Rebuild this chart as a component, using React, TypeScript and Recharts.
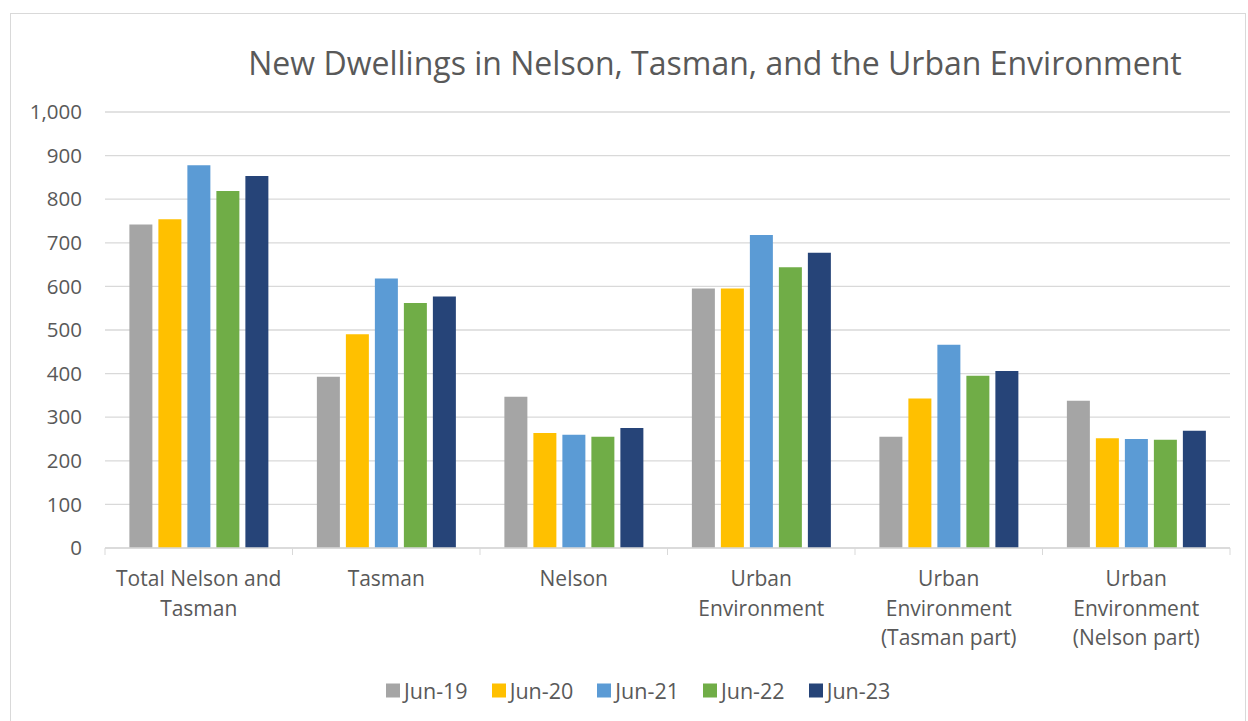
import { BarChart, Bar, XAxis, YAxis, CartesianGrid } from "recharts";

const categories = [
  "Total Nelson and\nTasman",
  "Tasman",
  "Nelson",
  "Urban\nEnvironment",
  "Urban\nEnvironment\n(Tasman part)",
  "Urban\nEnvironment\n(Nelson part)",
];
const jun19 = [742, 393, 347, 595, 255, 338];
const jun20 = [754, 490, 264, 595, 343, 252];
const jun21 = [878, 618, 260, 718, 466, 250];
const jun22 = [819, 562, 255, 644, 395, 248];
const jun23 = [853, 577, 275, 677, 406, 269];

const seriesKeys = ["Jun-19", "Jun-20", "Jun-21", "Jun-22", "Jun-23"];
const seriesValues = [jun19, jun20, jun21, jun22, jun23];
const seriesColors = ["#A5A5A5", "#FFC000", "#5B9BD5", "#70AD47", "#264478"];
const yTicks = [0, 100, 200, 300, 400, 500, 600, 700, 800, 900, 1000];

const data = categories.map((name, i) => {
  const row: Record<string, string | number> = { name };
  seriesKeys.forEach((k, s) => {
    row[k] = seriesValues[s][i];
  });
  return row;
});

const FONT = "'Open Sans', sans-serif";
const TEXT = "#595959";
const GRID = "#d9d9d9";
const PLOT_LEFT = 105;
const PLOT_RIGHT = 1230;
const BAND = (PLOT_RIGHT - PLOT_LEFT) / categories.length;

function CategoryTick(props: any) {
  const { x, y, payload, index } = props;
  const lines = String(payload.value).split("\n");
  const half = BAND / 2;
  return (
    <g>
      <line x1={x - half} x2={x - half} y1={y} y2={y + 7} stroke={GRID} />
      {index === categories.length - 1 && (
        <line x1={x + half} x2={x + half} y1={y} y2={y + 7} stroke={GRID} />
      )}
      <text textAnchor="middle" fill={TEXT} fontSize={21} fontFamily={FONT}>
        {lines.map((l, i) => (
          <tspan key={i} x={x} y={y + 38 + i * 29.5}>
            {l}
          </tspan>
        ))}
      </text>
    </g>
  );
}

export default function App() {
  return (
    <div style={{ position: "relative", width: 1248, height: 721, fontFamily: FONT }}>
      <style>{"body{margin:0;overflow:hidden}"}</style>
      <div
        style={{
          position: "absolute",
          left: 10,
          top: 13,
          width: 1234,
          height: 720,
          border: `1px solid ${GRID}`,
        }}
      />
      <div
        style={{
          position: "absolute",
          left: 715,
          top: 62,
          transform: "translate(-50%, -50%)",
          whiteSpace: "nowrap",
          fontSize: 32,
          color: TEXT,
        }}
      >
        New Dwellings in Nelson, Tasman, and the Urban Environment
      </div>
      <div style={{ position: "absolute", left: 0, top: 0 }}>
        <BarChart
          width={1248}
          height={721}
          data={data}
          margin={{ top: 112, right: 1248 - PLOT_RIGHT, bottom: 113, left: 0 }}
          barCategoryGap="13%"
          barGap={6}
        >
          <CartesianGrid vertical={false} stroke={GRID} strokeWidth={1.3} />
          <XAxis
            dataKey="name"
            interval={0}
            height={60}
            tickSize={0}
            tickMargin={0}
            axisLine={{ stroke: GRID, strokeWidth: 1.3 }}
            tick={<CategoryTick />}
          />
          <YAxis
            width={PLOT_LEFT}
            domain={[0, 1000]}
            ticks={yTicks}
            axisLine={false}
            tickLine={false}
            tickMargin={17}
            tick={{ fill: TEXT, fontSize: 20.5, fontFamily: FONT }}
            tickFormatter={(v: number) => v.toLocaleString("en-US")}
          />
          {seriesKeys.map((k, s) => (
            <Bar key={k} dataKey={k} fill={seriesColors[s]} isAnimationActive={false} />
          ))}
        </BarChart>
      </div>
      <div
        style={{
          position: "absolute",
          left: 386,
          top: 690,
          transform: "translateY(-50%)",
          display: "flex",
          gap: 24,
          fontSize: 21.5,
          color: TEXT,
          whiteSpace: "nowrap",
        }}
      >
        {seriesKeys.map((k, s) => (
          <div key={k} style={{ display: "flex", alignItems: "center", gap: 4 }}>
            <span style={{ width: 14, height: 14, background: seriesColors[s], display: "inline-block" }} />
            <span>{k}</span>
          </div>
        ))}
      </div>
    </div>
  );
}
